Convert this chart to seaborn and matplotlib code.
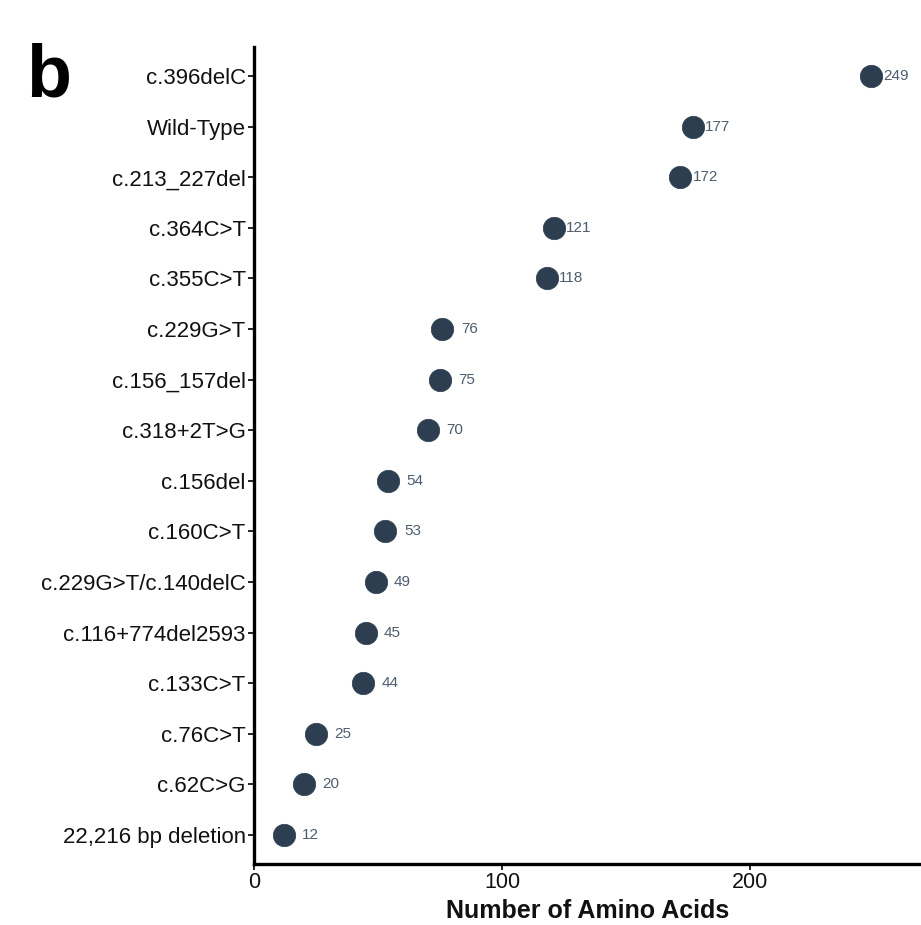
import pandas as pd
import numpy as np
import matplotlib.pyplot as plt
import seaborn as sns

variants = ["c.396delC", "Wild-Type", "c.213_227del", "c.364C>T", "c.355C>T",
            "c.229G>T", "c.156_157del", "c.318+2T>G", "c.156del", "c.160C>T",
            "c.229G>T/c.140delC", "c.116+774del2593", "c.133C>T", "c.76C>T",
            "c.62C>G", "22,216 bp deletion"]
amino_acids = [249, 177, 172, 121, 118, 76, 75, 70, 54, 53, 49, 45, 44, 25, 20, 12]
x_ticks = [0, 100, 200]

sns.set_theme(style="ticks")
plt.rcParams['font.family'] = ['Liberation Sans', 'DejaVu Sans']

df = pd.DataFrame({'variant': variants, 'aa': amino_acids})

fig = plt.figure(figsize=(9.21, 9.25), dpi=100)
ax = fig.add_axes([0.2758, 0.066, 0.7242, 0.883])

sns.scatterplot(data=df, x='aa', y='variant', ax=ax, s=260, color='#2c3e50',
                edgecolor='#2c3e50', linewidth=0.5, zorder=3)

# labels sit just right of each dot (2-digit labels a bit further out)
for i, row in df.iterrows():
    off = 12 if row['aa'] >= 100 else 18.5
    ax.annotate(str(row['aa']), (row['aa'], i), xytext=(off * 0.72, 0),
                textcoords='offset points', va='center', ha='left',
                fontsize=11, color='#4d5d6e')

ax.set_xlim(0, 269)
ax.set_ylim(len(variants) - 0.43, -0.57)
ax.set_xticks(x_ticks)
ax.tick_params(axis='both', colors='black', length=4, width=1.2)
ax.tick_params(axis='x', labelsize=15.5, pad=2)
ax.tick_params(axis='y', labelsize=16, pad=2)
for lab in ax.get_xticklabels() + ax.get_yticklabels():
    lab.set_color('#111111')
ax.set_xlabel('Number of Amino Acids', fontsize=18, fontweight='bold',
              labelpad=4, color='#111111')
ax.set_ylabel('')
for side in ['left', 'bottom']:
    ax.spines[side].set_linewidth(2.4)
    ax.spines[side].set_color('black')
sns.despine(ax=ax)

fig.text(0.028, 0.896, 'b', fontsize=53, fontweight='bold', ha='left',
         va='baseline', color='black')

plt.savefig('out.png', dpi=100)
